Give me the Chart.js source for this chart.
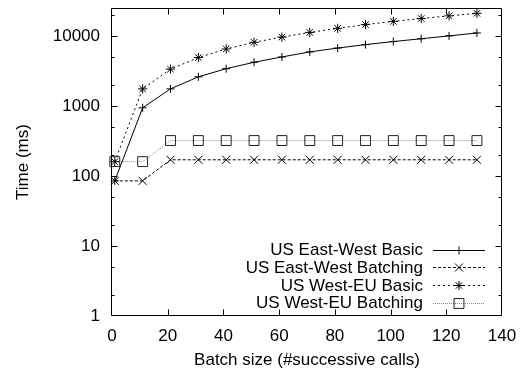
<!DOCTYPE html>
<html>
<head>
<meta charset="utf-8">
<script src="https://cdn.jsdelivr.net/npm/chart.js@4/dist/chart.umd.min.js"></script>
<style>
  html, body { margin: 0; padding: 0; background: #fff; }
  canvas { display: block; }
</style>
</head>
<body>
<canvas id="chart" width="527" height="372"></canvas>
<script>
// batch sizes on the x axis
const batchSizes = [1, 11, 21, 31, 41, 51, 61, 71, 81, 91, 101, 111, 121, 131];

const eastWestBasic = [85, 940, 1750, 2600, 3400, 4200, 5000, 5900, 6700, 7500, 8300, 9100, 10000, 11000];
const eastWestBatching = [85, 85, 170, 170, 170, 170, 170, 170, 170, 170, 170, 170, 170, 170];
const westEuBasic = [160, 1750, 3350, 4900, 6500, 8100, 9600, 11200, 12800, 14500, 16100, 17700, 19300, 21000];
const westEuBatching = [160, 160, 320, 320, 320, 320, 320, 320, 320, 320, 320, 320, 320, 320];

const seriesNames = ['US East-West Basic', 'US East-West Batching', 'US West-EU Basic', 'US West-EU Batching'];
const yTicks = [1, 10, 100, 1000, 10000];
const xTicks = [0, 20, 40, 60, 80, 100, 120, 140];

const FONT = '"Liberation Sans", Arial, Helvetica, sans-serif';

const toPoints = (values) => batchSizes.map((x, i) => ({ x: x, y: values[i] }));

function series(label, values, style) {
    return Object.assign({
        label: label,
        data: toPoints(values),
        borderColor: '#000',
        borderWidth: 1,
        pointBorderColor: '#000',
        pointBackgroundColor: 'transparent',
        pointBorderWidth: 1,
        pointHoverRadius: 0,
        tension: 0,
        clip: false,
    }, style);
}

// gnuplot-like box with inward ticks plus the key in the lower right
const gnuplotFrame = {
    id: 'gnuplotFrame',
    beforeDatasetsDraw(chart) {
        const { ctx, chartArea: a, scales } = chart;
        const L = Math.round(a.left) - 0.5, R = Math.round(a.right) - 0.5;
        const T = Math.round(a.top) + 0.5, B = Math.round(a.bottom) - 0.5;
        ctx.save();
        ctx.strokeStyle = '#000';
        ctx.lineWidth = 1;
        ctx.beginPath();
        ctx.rect(L, T, R - L, B - T);
        xTicks.slice(1, -1).forEach((v) => {
            const px = Math.round(scales.x.getPixelForValue(v)) + 0.5;
            ctx.moveTo(px, B); ctx.lineTo(px, B - 6);
            ctx.moveTo(px, T); ctx.lineTo(px, T + 6);
        });
        const ymax = scales.y.max;
        yTicks.forEach((d) => {
            [1, 2, 5].forEach((m) => {
                const v = d * m;
                if (v <= 1 || v >= ymax) return;
                const py = Math.round(scales.y.getPixelForValue(v)) + 0.5;
                const len = m === 1 ? 6 : 3;
                ctx.moveTo(L, py); ctx.lineTo(L + len, py);
                ctx.moveTo(R, py); ctx.lineTo(R - len, py);
            });
        });
        ctx.stroke();
        ctx.restore();
    },
    afterDraw(chart) {
        const { ctx } = chart;
        const textRight = 423, lineLeft = 433, lineRight = 485;
        ctx.save();
        ctx.font = '17px ' + FONT;
        ctx.textAlign = 'right';
        ctx.textBaseline = 'middle';
        chart.data.datasets.forEach((ds, i) => {
            const y = 249.5 + i * 17.75;
            ctx.fillStyle = '#000';
            ctx.fillText(ds.label, textRight, y + 1);
            ctx.beginPath();
            ctx.strokeStyle = ds.borderColor;
            ctx.lineWidth = ds.borderWidth;
            ctx.setLineDash(ds.borderDash || []);
            ctx.moveTo(lineLeft, Math.round(y) + 0.5);
            ctx.lineTo(lineRight, Math.round(y) + 0.5);
            ctx.stroke();
            ctx.setLineDash([]);
            ctx.strokeStyle = ds.pointBorderColor;
            ctx.fillStyle = 'transparent';
            Chart.helpers.drawPoint(ctx, {
                pointStyle: ds.pointStyle,
                radius: ds.pointRadius,
                rotation: 0,
                borderWidth: 1,
            }, (lineLeft + lineRight) / 2, Math.round(y) + 0.5);
        });
        ctx.restore();
    },
};

new Chart(document.getElementById('chart'), {
    type: 'line',
    data: {
        datasets: [
            series(seriesNames[0], eastWestBasic, { pointStyle: 'cross', pointRadius: 4 }),
            series(seriesNames[1], eastWestBatching, { pointStyle: 'crossRot', pointRadius: 5.7, borderDash: [3, 2] }),
            series(seriesNames[2], westEuBasic, { pointStyle: 'star', pointRadius: 4.6, borderDash: [2, 3] }),
            series(seriesNames[3], westEuBatching, {
                pointStyle: 'rect', pointRadius: 7, borderDash: [1, 1],
                borderColor: '#8a8a8a', pointBorderColor: '#222',
            }),
        ],
    },
    options: {
        responsive: false,
        animation: false,
        events: [],
        layout: { padding: { top: 8, right: 25, left: 0, bottom: 0 } },
        plugins: {
            legend: { display: false },
            tooltip: { enabled: false },
        },
        scales: {
            x: {
                type: 'linear',
                min: 0,
                max: 140,
                afterBuildTicks: (scale) => { scale.ticks = xTicks.map((v) => ({ value: v })); },
                afterFit: (scale) => {
                    scale.height = 56;
                    scale.paddingLeft = 0;
                    scale.paddingRight = 0;
                },
                grid: { display: false, drawTicks: false },
                border: { display: false },
                ticks: { color: '#000', padding: 10, font: { family: FONT, size: 17 }, maxRotation: 0 },
                title: {
                    display: true,
                    text: 'Batch size (#successive calls)',
                    color: '#000',
                    font: { family: FONT, size: 17 },
                    padding: { top: 0, bottom: 1 },
                },
            },
            y: {
                type: 'logarithmic',
                min: 1,
                max: 25000,
                afterBuildTicks: (scale) => { scale.ticks = yTicks.map((v) => ({ value: v })); },
                afterFit: (scale) => {
                    scale.width = 112;
                    scale.paddingTop = 0;
                    scale.paddingBottom = 0;
                },
                grid: { display: false, drawTicks: false },
                border: { display: false },
                ticks: {
                    color: '#000',
                    padding: 12,
                    font: { family: FONT, size: 17 },
                    callback: (v) => String(v),
                },
                title: {
                    display: true,
                    text: 'Time (ms)',
                    color: '#000',
                    font: { family: FONT, size: 17 },
                    padding: { top: 13, bottom: 0 },
                },
            },
        },
    },
    plugins: [gnuplotFrame],
});
</script>
</body>
</html>
